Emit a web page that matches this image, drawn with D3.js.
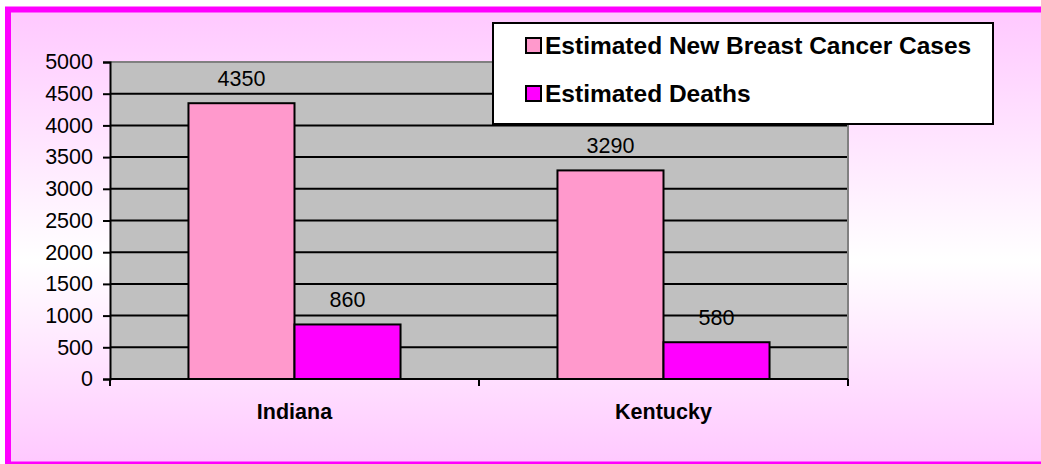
<!DOCTYPE html>
<html>
<head>
<meta charset="utf-8">
<script src="https://cdn.jsdelivr.net/npm/d3@7"></script>
<style>
  html, body { margin: 0; padding: 0; background: #ffffff; }
  svg { display: block; font-family: Arial, "Liberation Sans", sans-serif; }
</style>
</head>
<body>
<svg id="chart" width="1041" height="464"></svg>
<script>
// Breast cancer estimates by state
const states = ["Indiana", "Kentucky"];
const seriesNames = ["Estimated New Breast Cancer Cases", "Estimated Deaths"];
const newCases = [4350, 3290];
const deaths = [860, 580];
const yTicks = [0, 500, 1000, 1500, 2000, 2500, 3000, 3500, 4000, 4500, 5000];
const seriesColors = ["#ff99cc", "#ff00ff"];

const svg = d3.select("#chart");

// Frame background: pink at the edges fading to white in the middle
const defs = svg.append("defs");
const grad = defs.append("linearGradient")
  .attr("id", "bg").attr("x1", 0).attr("y1", 0).attr("x2", 0).attr("y2", 1);
grad.append("stop").attr("offset", "0%").attr("stop-color", "#ffc8ff");
grad.append("stop").attr("offset", "55%").attr("stop-color", "#ffffff");
grad.append("stop").attr("offset", "100%").attr("stop-color", "#ffc8ff");

svg.append("rect")
  .attr("x", 8).attr("y", 9.5).attr("width", 1060).attr("height", 455)
  .attr("fill", "url(#bg)")
  .attr("stroke", "#ff00ff").attr("stroke-width", 6);

// Plot area
const plot = { left: 110, right: 848, top: 62, bottom: 379 };

const x0 = d3.scaleBand().domain(states).range([plot.left, plot.right]).padding(0);
const x1 = d3.scaleBand().domain(seriesNames).range([0, x0.bandwidth()])
  .paddingInner(0).paddingOuter(0.74);
const y = d3.scaleLinear().domain([0, 5000]).range([plot.bottom, plot.top]);

svg.append("rect")
  .attr("x", plot.left).attr("y", plot.top)
  .attr("width", plot.right - plot.left).attr("height", plot.bottom - plot.top)
  .attr("fill", "#c0c0c0");

// Gridlines (the top edge is drawn as a grey border)
svg.append("g").selectAll("line")
  .data(yTicks.filter(t => t > 0 && t < 5000))
  .join("line")
  .attr("x1", plot.left).attr("x2", plot.right)
  .attr("y1", d => y(d)).attr("y2", d => y(d))
  .attr("stroke", "#000").attr("stroke-width", 2);

svg.append("path")
  .attr("d", `M${plot.left},${plot.top}H${plot.right}V${plot.bottom}`)
  .attr("fill", "none").attr("stroke", "#808080").attr("stroke-width", 2);

// Bars
const rows = states.map((s, i) => ({ state: s, values: [newCases[i], deaths[i]] }));
const groups = svg.append("g").selectAll("g")
  .data(rows).join("g")
  .attr("transform", d => `translate(${x0(d.state)},0)`);

groups.selectAll("rect")
  .data(d => d.values.map((v, j) => ({ key: seriesNames[j], value: v, color: seriesColors[j] })))
  .join("rect")
  .attr("x", d => x1(d.key))
  .attr("y", d => y(d.value))
  .attr("width", x1.bandwidth())
  .attr("height", d => y(0) - y(d.value))
  .attr("fill", d => d.color)
  .attr("stroke", "#000").attr("stroke-width", 2);

groups.selectAll("text")
  .data(d => d.values.map((v, j) => ({ key: seriesNames[j], value: v })))
  .join("text")
  .attr("x", d => x1(d.key) + x1.bandwidth() / 2)
  .attr("y", d => y(d.value) - 17)
  .attr("text-anchor", "middle")
  .attr("font-size", 21.5)
  .attr("fill", "#000")
  .text(d => d.value);

// Y axis
const yAxis = d3.axisLeft(y).tickValues(yTicks).tickSize(7).tickPadding(10)
  .tickFormat(d3.format("d"));
const gy = svg.append("g").attr("transform", `translate(${plot.left},0)`).call(yAxis);
gy.select(".domain").attr("stroke", "#000").attr("stroke-width", 2);
gy.selectAll(".tick line").attr("stroke", "#000").attr("stroke-width", 2);
gy.selectAll(".tick text").attr("font-size", 21.5).attr("fill", "#000")
  .attr("font-family", "Arial, 'Liberation Sans', sans-serif");

// X axis: ticks between categories
const gx = svg.append("g");
gx.append("line")
  .attr("x1", plot.left).attr("x2", plot.right)
  .attr("y1", plot.bottom).attr("y2", plot.bottom)
  .attr("stroke", "#000").attr("stroke-width", 2);
const boundaries = states.map(s => x0(s)).concat([x0(states[states.length - 1]) + x0.bandwidth()]);
gx.selectAll("line.tk").data(boundaries).join("line").attr("class", "tk")
  .attr("x1", d => d).attr("x2", d => d)
  .attr("y1", plot.bottom).attr("y2", plot.bottom + 7)
  .attr("stroke", "#000").attr("stroke-width", 2);
gx.selectAll("text").data(states).join("text")
  .attr("x", d => x0(d) + x0.bandwidth() / 2)
  .attr("y", 419)
  .attr("text-anchor", "middle")
  .attr("font-size", 21.5).attr("font-weight", "bold")
  .attr("fill", "#000")
  .text(d => d);

// Legend
const legend = svg.append("g");
legend.append("rect")
  .attr("x", 493).attr("y", 23).attr("width", 500).attr("height", 101)
  .attr("fill", "#fff").attr("stroke", "#000").attr("stroke-width", 2);
const items = legend.selectAll("g.item")
  .data(seriesNames.map((n, i) => ({ name: n, color: seriesColors[i], i })))
  .join("g").attr("class", "item")
  .attr("transform", d => `translate(0,${d.i * 48})`);
items.append("rect")
  .attr("x", 526).attr("y", 38).attr("width", 15).attr("height", 15)
  .attr("fill", d => d.color).attr("stroke", "#000").attr("stroke-width", 2);
items.append("text")
  .attr("x", 545).attr("y", 54)
  .attr("font-size", 24.5).attr("font-weight", "bold").attr("fill", "#000")
  .text(d => d.name);
</script>
</body>
</html>
